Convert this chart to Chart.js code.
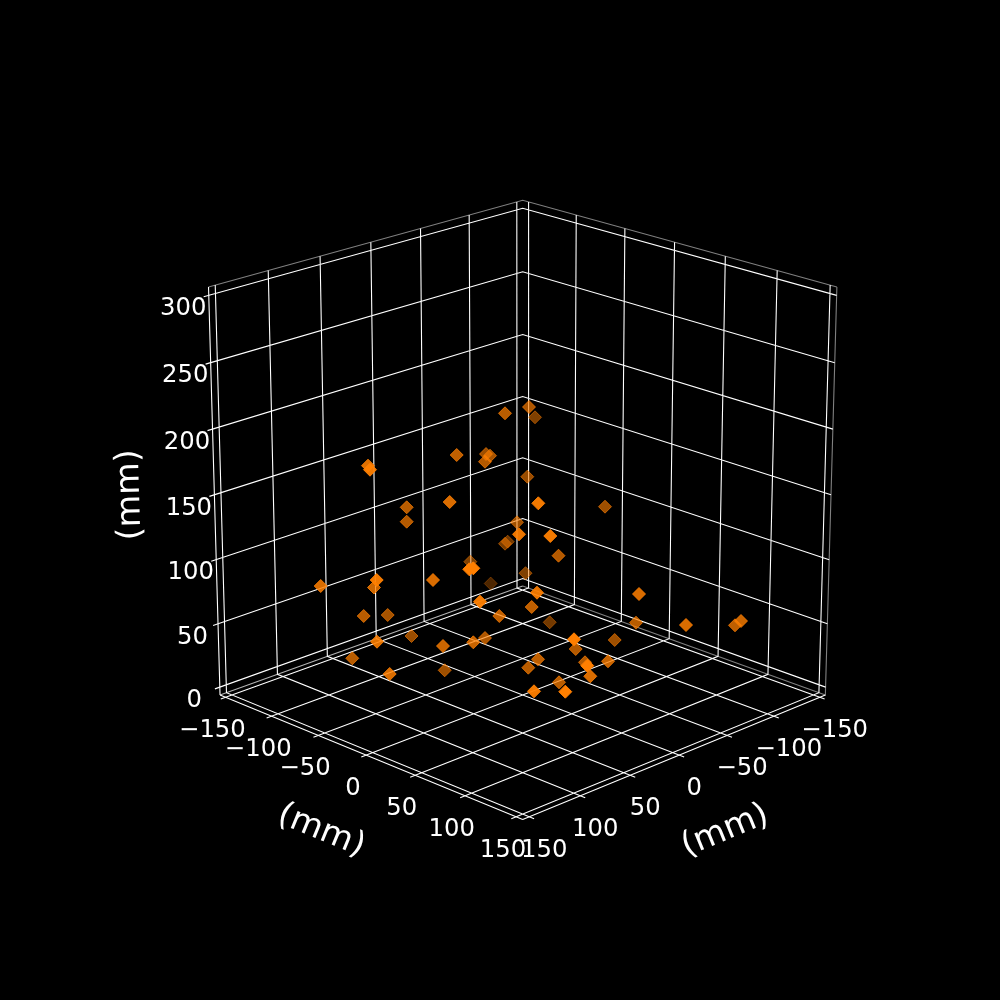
<!DOCTYPE html>
<html><head><meta charset="utf-8">
<style>html,body{margin:0;padding:0;background:#000}canvas{display:block}#w{width:1000px;height:1000px}</style>
<script src="https://cdn.jsdelivr.net/npm/chart.js@4"></script></head>
<body><div id="w"><canvas id="c" width="1000" height="1000"></canvas></div>
<script>
// Axis tick values
const planeTicks = [-150,-100,-50,0,50,100,150];
const heightTicks = [0,50,100,150,200,250,300];
const axisUnit = "(mm)";
// Scatter values, in the projected picture plane
const pointH = [505,529,535,456.7,486,490,485,368,370,527.3,449.7,538.3,406.7,406.7,517,519,550.3,507.7,505,558.5,605,470.3,469.3,473.3,433,376.7,374,525.5,490.7,537,499.3,480,531.7,549.7,574,575.7,614.7,636,639,411.5,443,473.3,485,444.7,538,528.3,585,587.3,608,590.3,559,534,565.3,320.7,363.7,387.7,377,352.3,389.7,686,735,741];
const pointV = [413.3,407,417.3,455,454,455.7,461.7,465.7,469.7,476.7,502,503.3,507.3,521.7,522.3,534.3,536,541.7,543.7,555.7,506.7,561.7,569.3,568.3,580,580,587.5,573.2,583.5,592.7,616,601.7,607,622.3,639.3,649,640,622.7,594,636,646,642.3,638,670.3,659.3,667.7,662.3,665.7,661.3,676.3,682.3,691.3,691.7,586,616,615,641.7,658.3,674,625,625.3,621];
const pointShade = [.72,.68,.5,.75,.62,.65,.7,.88,.95,.6,.85,.95,.72,.7,.62,.92,.95,.45,.48,.7,.62,.5,1,1,.85,.95,.8,.5,.3,.92,.75,.95,.75,.45,1,.7,.62,.72,.85,.6,.8,.78,.68,.62,.75,.72,.7,1,.78,.85,.72,.95,1,.85,.72,.65,.88,.72,.85,.85,.75,.8];

// View of the box
const cam = {cx:522.7, cy:494.77, A:.9866, B:.33568, C:-1.3053, p:2.16e-4, q:1.195e-4};
const L = 156.25, T = 161, zLo = -6.25, zHi = 306.25;
function proj(a,b,z){
  const zp = z-150, D = 1-cam.p*(a+b)-cam.q*zp;
  return {x: cam.cx+cam.A*(a-b)/D, y: cam.cy+(cam.B*(a+b)+cam.C*zp)/D};
}
function path(segments){
  const out = [];
  segments.forEach(s=>{ s.forEach(v=>out.push(proj(v[0],v[1],v[2]))); out.push({x:NaN,y:NaN}); });
  return out;
}
const gridSegs = [];
heightTicks.forEach(z=>gridSegs.push([[-L,T,z],[-L,-L,z],[L,-L,z]]));
planeTicks.forEach(t=>{
  gridSegs.push([[t,T,zLo],[t,-L,zLo],[t,-L,zHi]]);
  gridSegs.push([[T,t,zLo],[-L,t,zLo],[-L,t,zHi]]);
});
const line = (segs,color,w,order)=>({type:'scatter',showLine:true,data:path(segs),borderColor:color,borderWidth:w,pointRadius:0,spanGaps:false,tension:0,order:order});
const idx = pointH.map((_,i)=>i).sort((m,n)=>pointShade[m]-pointShade[n]);
const colour = s=>`rgba(255,127,0,${s})`;
const datasets = [
  {type:'scatter',order:1,pointStyle:'rectRot',pointRadius:6.5,pointBorderWidth:1,
   data:idx.map(i=>({x:pointH[i],y:pointV[i]})),
   pointBackgroundColor:idx.map(i=>colour(pointShade[i])),
   pointBorderColor:idx.map(i=>colour(pointShade[i]))},
  line(gridSegs,'#ffffff',1.1,3),
  line([[[L,L,zLo],[-L,L,zLo]],[[L,L,zLo],[L,-L,zLo]],[[-L,L,zLo],[-L,L,zHi]]],'#ffffff',1.1,4),
  line([[[-L,L,zLo],[-L,-L,zLo]]],'rgba(255,255,255,.7)',1.1,5),
  line([[[-L,L,zHi],[-L,-L,zHi],[L,-L,zHi]],[[L,-L,zHi],[L,-L,zLo],[-L,-L,zLo]]],'rgba(255,255,255,.5)',1.1,5)
];
const labelPlugin = {id:'boxLabels',afterDatasetsDraw(chart){
  const ctx = chart.ctx, sx = chart.scales.x, sy = chart.scales.y;
  const put = (txt,q,dx,dy,size,rot)=>{
    ctx.save();
    ctx.translate(sx.getPixelForValue(q.x)+dx, sy.getPixelForValue(q.y)+dy);
    ctx.rotate(rot||0);
    ctx.font = size+'px "DejaVu Sans"';
    ctx.fillStyle = '#fff'; ctx.textAlign='center'; ctx.textBaseline='middle';
    ctx.fillText(txt,0,0);
    ctx.restore();
  };
  const fmt = v=>String(v).replace('-','\u2212');
  planeTicks.forEach(t=>{
    put(fmt(t),proj(t,L,zLo),-13.3,33.5,24.3);
    put(fmt(t),proj(L,t,zLo),15,33.5,24.3);
  });
  heightTicks.forEach(z=>put(fmt(z),proj(-L,L,z),-25.5,13.5,24.3));
  const tilt = 22.3*Math.PI/180;
  put(axisUnit,proj(0,L,zLo),-45,76,33.3,tilt);
  put(axisUnit,proj(L,0,zLo),46,76,33.3,-tilt);
  put(axisUnit,proj(-L,L,150),-84,0,33.3,-91.6*Math.PI/180);
}};
Chart.defaults.font.family = '"DejaVu Sans"';
new Chart(document.getElementById('c'),{
  data:{datasets},
  options:{responsive:false,animation:false,events:[],layout:{padding:0,autoPadding:false},
    plugins:{legend:{display:false},tooltip:{enabled:false},title:{display:false}},
    scales:{x:{type:'linear',min:0,max:1000,display:false},y:{type:'linear',min:0,max:1000,reverse:true,display:false}}},
  plugins:[labelPlugin,{id:'bg',beforeDraw(c){c.ctx.save();c.ctx.fillStyle='#000';c.ctx.fillRect(0,0,1000,1000);c.ctx.restore();}}]
});
</script></body></html>
